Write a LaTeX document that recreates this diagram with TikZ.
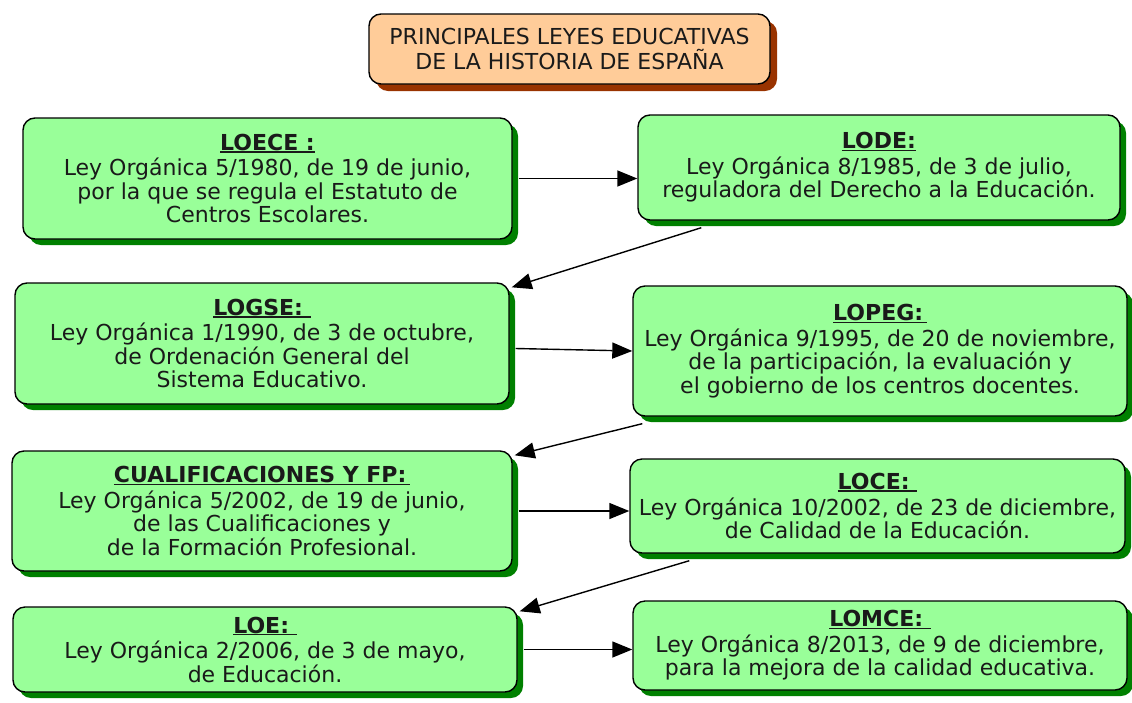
\documentclass[tikz,border=0pt]{standalone}
\usepackage{fontspec}
\setmainfont{DejaVu Sans}
\usetikzlibrary{arrows.meta,shadows}

\definecolor{verdeclaro}{HTML}{99FF99}
\definecolor{verdeoscuro}{HTML}{008000}
\definecolor{salmon}{HTML}{FFCC99}
\definecolor{marron}{HTML}{993300}
\definecolor{texto}{HTML}{1A1A1A}

\newsavebox{\cajacab}
\newcommand{\cabecera}[1]{\sbox{\cajacab}{\textbf{#1}}%
  \rlap{\rule[-2.4pt]{\wd\cajacab}{1.5pt}}\usebox{\cajacab}}

\tikzset{
  caja/.style = {draw, line width=1.4pt, rounded corners=12pt, text=texto,
    align=center, inner sep=0pt},
  ley/.style = {caja, fill=verdeclaro, font=\fontsize{22}{23.5}\selectfont,
    drop shadow={shadow xshift=6pt, shadow yshift=-6pt, fill=verdeoscuro, opacity=1}},
  portada/.style = {caja, fill=salmon, font=\fontsize{22}{24.5}\selectfont,
    drop shadow={shadow xshift=7pt, shadow yshift=-7pt, fill=marron, opacity=1}},
  flecha/.style = {line width=1.4pt, -{Triangle[length=20pt,width=16pt]}}
}

\begin{document}
\begin{tikzpicture}[x=1pt, y=-1pt]
    \useasboundingbox (0,0) rectangle (1132,702);

    % Title
    \node[portada, minimum width=401pt, minimum height=70pt] (titulo) at (569.5,49)
      {PRINCIPALES LEYES EDUCATIVAS\\DE LA HISTORIA DE ESPAÑA};

    % Laws, left column
    \node[ley, minimum width=489pt, minimum height=121pt] (loece) at (267.5,178.5)
      {\cabecera{LOECE :}\\[2pt]Ley Orgánica 5/1980, de 19 de junio,\\por la que se regula el Estatuto de\\Centros Escolares.};
    \node[ley, minimum width=494pt, minimum height=121pt] (logse) at (262,343.5)
      {\cabecera{LOGSE:~}\\[2pt]Ley Orgánica 1/1990, de 3 de octubre,\\de Ordenación General del\\Sistema Educativo.};
    \node[ley, minimum width=500pt, minimum height=120pt] (cualif) at (262,511)
      {\cabecera{CUALIFICACIONES Y FP:\,}\\[2pt]Ley Orgánica 5/2002, de 19 de junio,\\de las Cualificaciones y\\de la Formación Profesional.};
    \node[ley, minimum width=504pt, minimum height=85pt] (loe) at (265,649.5)
      {\cabecera{LOE:~}\\[2pt]Ley Orgánica 2/2006, de 3 de mayo,\\de Educación.};

    % Laws, right column
    \node[ley, minimum width=482pt, minimum height=105pt] (lode) at (879,167.5)
      {\cabecera{LODE:}\\[2pt]Ley Orgánica 8/1985, de 3 de julio,\\reguladora del Derecho a la Educación.};
    \node[ley, minimum width=494pt, minimum height=130pt] (lopeg) at (880,351)
      {\cabecera{LOPEG:\,}\\[2pt]Ley Orgánica 9/1995, de 20 de noviembre,\\de la participación, la evaluación y\\el gobierno de los centros docentes.};
    \node[ley, minimum width=495pt, minimum height=94pt] (loce) at (877.5,506)
      {\cabecera{LOCE:~}\\[2pt]Ley Orgánica 10/2002, de 23 de diciembre,\\de Calidad de la Educación.};
    \node[ley, minimum width=494pt, minimum height=89pt] (lomce) at (880,645.5)
      {\cabecera{LOMCE:~}\\[2pt]Ley Orgánica 8/2013, de 9 de diciembre,\\para la mejora de la calidad educativa.};

    % Arrows
    \foreach \a/\b in {loece/lode, cualif/loce, loe/lomce}
      \draw[flecha] ([xshift=6pt]\a.east) -- (\a.east -| \b.west);
    \draw[flecha] ([xshift=6pt,yshift=-5pt]logse.east) -- (lopeg.west);

    \foreach \a/\b/\d in {lode/logse/64, lopeg/cualif/10, loce/loe/60}
      \draw[flecha] ([xshift=\d pt,yshift=-7pt]\a.south west) -- ([xshift=2pt,yshift=-5pt]\b.north east);

\end{tikzpicture}
\end{document}
